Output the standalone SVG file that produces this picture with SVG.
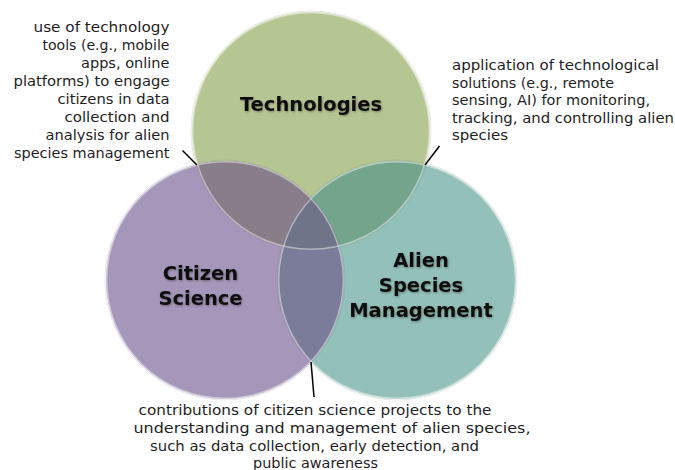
<svg xmlns="http://www.w3.org/2000/svg" width="675" height="470" viewBox="0 0 675 470">
  <style>
    .note { font-family: "DejaVu Sans", "Liberation Sans", sans-serif; font-size: 14.5px; fill: #1e1e1e; }
    .label { font-family: "DejaVu Sans", "Liberation Sans", sans-serif; font-size: 19.5px; font-weight: bold; fill: #111; text-anchor: middle; filter: url(#textShadow); }
    .rim { fill: none; stroke: #ffffff; stroke-opacity: 0.45; stroke-width: 1.4; }
    .edge { fill: none; stroke: #7a7a7a; stroke-opacity: 0.18; stroke-width: 1; }
    .conn { stroke: #000; stroke-width: 1.5; fill: none; }
  </style>
  <defs>
    <clipPath id="clipTech"><circle cx="311" cy="131" r="119"/></clipPath>
    <clipPath id="clipCitizen"><circle cx="225" cy="280" r="119"/></clipPath>
    <clipPath id="clipAlien"><circle cx="397" cy="280" r="119"/></clipPath>
    <filter id="textShadow" x="-10%" y="-30%" width="120%" height="160%">
      <feDropShadow dx="0.8" dy="1" stdDeviation="0.9" flood-color="#000" flood-opacity="0.35"/>
    </filter>
  </defs>

  <rect width="675" height="470" fill="#ffffff"/>

  <!-- base circles -->
  <g id="node-technologies">
    <circle cx="311" cy="131" r="119" fill="#b5c693"/>
  </g>
  <g id="node-citizen-science">
    <circle cx="225" cy="280" r="119" fill="#a597b9"/>
  </g>
  <g id="node-alien-species-management">
    <circle cx="397" cy="280" r="119" fill="#93c0b9"/>
  </g>

  <!-- pairwise and triple overlaps -->
  <g id="overlaps">
    <circle cx="311" cy="131" r="119" fill="#887e8a" clip-path="url(#clipCitizen)"/>
    <circle cx="311" cy="131" r="119" fill="#74a48c" clip-path="url(#clipAlien)"/>
    <circle cx="225" cy="280" r="119" fill="#7b7c9a" clip-path="url(#clipAlien)"/>
    <g clip-path="url(#clipCitizen)">
      <circle cx="311" cy="131" r="119" fill="#6f7489" clip-path="url(#clipAlien)"/>
    </g>
  </g>

  <!-- soft outlines of each circle -->
  <g id="outlines">
    <circle class="edge" cx="311" cy="131" r="120"/>
    <circle class="edge" cx="225" cy="280" r="120"/>
    <circle class="edge" cx="397" cy="280" r="120"/>
    <circle class="rim" cx="311" cy="131" r="118.3"/>
    <circle class="rim" cx="225" cy="280" r="118.3"/>
    <circle class="rim" cx="397" cy="280" r="118.3"/>
  </g>

  <!-- circle titles -->
  <g id="labels">
    <text class="label" x="311" y="111">Technologies</text>
    <text class="label" x="200.5" y="280">Citizen</text>
    <text class="label" x="200.5" y="305">Science</text>
    <text class="label" x="421" y="267">Alien</text>
    <text class="label" x="421" y="292">Species</text>
    <text class="label" x="421" y="316.5">Management</text>
  </g>

  <!-- pointer lines from the intersections to the notes -->
  <g id="connectors">
    <line class="conn" x1="182.5" y1="150.5" x2="197" y2="165"/>
    <line class="conn" x1="439.5" y1="146" x2="425" y2="165"/>
    <line class="conn" x1="311" y1="362" x2="314" y2="397"/>
  </g>

  <!-- notes -->
  <g id="note-tech-citizen">
    <text class="note" x="33.5" y="32" textLength="136" lengthAdjust="spacingAndGlyphs">use of technology</text>
    <text class="note" x="42.5" y="50" textLength="127" lengthAdjust="spacingAndGlyphs">tools (e.g., mobile</text>
    <text class="note" x="81" y="68" textLength="88.5" lengthAdjust="spacingAndGlyphs">apps, online</text>
    <text class="note" x="13.5" y="86" textLength="156" lengthAdjust="spacingAndGlyphs">platforms) to engage</text>
    <text class="note" x="57.5" y="104" textLength="112" lengthAdjust="spacingAndGlyphs">citizens in data</text>
    <text class="note" x="64.5" y="122" textLength="105" lengthAdjust="spacingAndGlyphs">collection and</text>
    <text class="note" x="45.5" y="140" textLength="124" lengthAdjust="spacingAndGlyphs">analysis for alien</text>
    <text class="note" x="14" y="158" textLength="155.5" lengthAdjust="spacingAndGlyphs">species management</text>
  </g>
  <g id="note-tech-alien">
    <text class="note" x="452" y="70" textLength="207" lengthAdjust="spacingAndGlyphs">application of technological</text>
    <text class="note" x="452" y="87.5" textLength="162" lengthAdjust="spacingAndGlyphs">solutions (e.g., remote</text>
    <text class="note" x="452" y="105" textLength="198" lengthAdjust="spacingAndGlyphs">sensing, AI) for monitoring,</text>
    <text class="note" x="452" y="122.5" textLength="222" lengthAdjust="spacingAndGlyphs">tracking, and controlling alien</text>
    <text class="note" x="452" y="140" textLength="56" lengthAdjust="spacingAndGlyphs">species</text>
  </g>
  <g id="note-citizen-alien">
    <text class="note" x="138.5" y="415" textLength="353" lengthAdjust="spacingAndGlyphs">contributions of citizen science projects to the</text>
    <text class="note" x="133.5" y="433" textLength="397" lengthAdjust="spacingAndGlyphs">understanding and management of alien species,</text>
    <text class="note" x="150" y="451" textLength="329" lengthAdjust="spacingAndGlyphs">such as data collection, early detection, and</text>
    <text class="note" x="253" y="468" textLength="125" lengthAdjust="spacingAndGlyphs">public awareness</text>
  </g>
</svg>
